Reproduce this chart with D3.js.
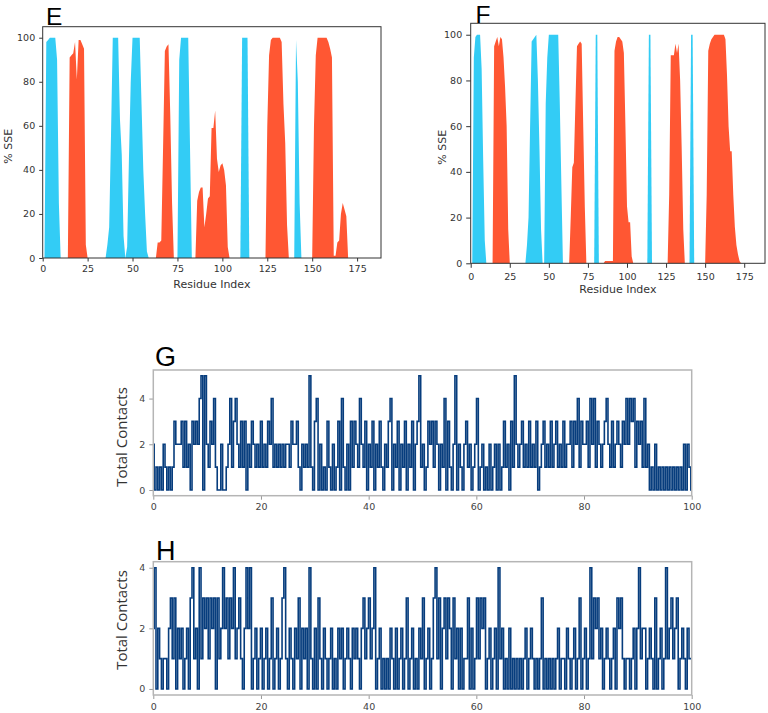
<!DOCTYPE html>
<html>
<head>
<meta charset="utf-8">
<script src="https://cdn.jsdelivr.net/npm/d3@7"></script>
<style>
  body { margin: 0; background: #fff; }
  svg { display: block; }
</style>
</head>
<body>
<div id="chart"></div>
<script>
// % SSE per residue. each run = [first residue, values for consecutive residues]
// panel E
var eStrand = [
  [1,   [0, 98, 99, 100, 100, 100, 100, 90, 25, 0]],
  [35,  [0, 6, 14, 55, 100, 100, 100, 100, 63, 47, 10, 0]],
  [46,  [0, 5, 45, 80, 100, 100, 100, 100, 100, 70, 40, 20, 3, 0]],
  [75,  [0, 90, 100, 100, 100, 100, 100, 50, 0]],
  [110, [0, 100, 100, 100, 100, 0]],
  [140, [0, 99, 80, 25, 0]]
];
var eHelix = [
  [14,  [0, 91, 92, 93, 98, 81, 99, 99, 97, 95, 6, 0]],
  [63,  [0, 7, 7, 8, 50, 94, 96, 97, 65, 25, 0]],
  [85,  [0, 26, 30, 32, 32, 14, 20, 27, 28, 59, 59, 67, 45, 39, 42, 43, 40, 33, 5, 0]],
  [124, [0, 60, 92, 99, 100, 100, 100, 100, 100, 98, 70, 52, 15, 0]],
  [150, [0, 60, 92, 100, 100, 100, 100, 100, 100, 98, 95, 91, 1, 1, 7, 8, 20, 25, 22, 19, 0]]
];
// panel F
var fStrand = [
  [1,   [0, 90, 99, 100, 100, 100, 85, 45, 10, 0]],
  [35,  [0, 8, 20, 60, 97, 98, 99, 100, 80, 50, 15, 0]],
  [47,  [0, 70, 90, 100, 100, 100, 100, 100, 100, 100, 70, 35, 0]],
  [79,  [0, 100, 100, 0]],
  [113, [0, 100, 100, 0]],
  [140, [0, 100, 100, 0]]
];
var fHelix = [
  [14,  [0, 95, 97, 99, 95, 99, 98, 90, 77, 60, 15, 0]],
  [63,  [0, 20, 42, 44, 70, 95, 96, 97, 96, 60, 25, 0]],
  [85,  [0, 1, 1, 1, 1, 1, 1, 93, 97, 99, 99, 98, 97, 92, 60, 25, 18, 18, 3, 0]],
  [126, [0, 30, 91, 91, 91, 96, 92, 96, 80, 50, 15, 0]],
  [150, [0, 30, 93, 96, 98, 99, 100, 100, 100, 100, 100, 100, 100, 98, 82, 60, 49, 49, 30, 16, 8, 4, 1, 0]]
];
var sseXTicks = [0, 25, 50, 75, 100, 125, 150, 175];
var sseYTicks = [0, 20, 40, 60, 80, 100];

// total contacts over 0-100 ns (3 samples per ns)
var gContacts = [
  2,0,1, 0,1,0, 2,1,0, 1,0,1, 3,2,2, 2,3,1, 3,1,2, 0,3,2, 3,2,4, 5,0,5,
  2,1,3, 2,4,1, 0,0,2, 0,0,1, 2,4,1, 3,4,2, 1,3,1, 3,0,2, 1,3,2, 1,2,1,
  3,1,2, 1,3,2, 4,1,2, 1,2,1, 2,1,2, 2,1,3, 2,2,3, 1,0,2, 1,2,1, 5,1,0,
  3,4,0, 2,0,1, 0,3,1, 0,2,0, 1,3,0, 4,1,0, 2,0,3, 1,3,2, 1,4,2, 1,3,0,
  2,1,3, 0,2,1, 3,1,0, 2,1,3, 4,0,2, 1,3,0, 2,1,3, 0,2,1, 3,0,2, 3,5,1,
  2,0,1, 3,2,3, 1,3,2, 0,2,1, 4,0,3, 1,0,2, 5,0,2, 1,0,2, 3,1,2, 0,1,2,
  4,0,1, 2,0,1, 0,2,0, 1,2,0, 2,0,1, 3,1,2, 0,3,1, 5,2,1, 2,3,1, 2,1,3,
  1,2,1, 3,0,1, 2,3,1, 2,1,3, 1,2,3, 1,2,1, 3,1,2, 2,3,1, 3,2,4, 1,3,2,
  2,3,1, 4,2,4, 1,3,2, 1,2,3, 4,2,1, 3,1,2, 3,2,1, 3,2,4, 2,4,3, 4,1,3,
  2,3,1, 4,1,2, 0,1,0, 2,0,1, 0,1,0, 1,0,1, 0,1,0, 1,0,1, 0,2,0, 2,1,0
];
var hContacts = [
  2,4,0, 2,1,0, 1,1,0, 2,3,1, 3,0,2, 1,2,0, 1,2,0, 3,4,1, 2,0,4, 1,3,2,
  3,1,3, 2,3,0, 3,1,2, 4,2,3, 1,3,2, 4,1,2, 3,1,0, 2,4,2, 4,0,1, 2,0,1,
  2,0,1, 2,0,1, 3,0,1, 2,0,1, 3,4,1, 0,2,1, 0,2,1, 3,0,2, 1,2,0, 4,1,0,
  2,0,3, 1,0,2, 1,0,1, 2,0,1, 0,2,1, 2,0,1, 2,1,0, 2,1,2, 1,0,2, 3,1,2,
  3,1,2, 4,0,1, 2,0,1, 0,1,0, 2,1,0, 2,0,1, 2,0,1, 3,0,1, 2,0,1, 0,2,1,
  3,0,1, 2,0,1, 3,4,1, 3,0,2, 3,1,3, 2,0,3, 1,2,0, 2,0,1, 1,3,0, 2,0,1,
  3,1,3, 2,3,0, 1,2,0, 1,2,0, 4,1,2, 0,1,0, 2,0,1, 0,1,0, 1,0,1, 2,0,1,
  2,1,0, 1,0,1, 3,0,1, 0,1,0, 1,0,1, 2,0,1, 1,0,2, 1,0,1, 2,0,1, 3,0,1,
  2,0,1, 4,1,3, 2,3,1, 2,0,1, 2,1,0, 1,2,0, 3,2,3, 1,0,1, 1,0,1, 2,0,2,
  4,1,2, 2,0,1, 2,1,0, 3,0,1, 2,0,1, 4,1,2, 3,1,2, 3,0,1, 2,1,0, 2,1,1
];
var timeTicks = [0, 20, 40, 60, 80, 100];
var contactTicks = [0, 2, 4];

var width = 768, height = 713;

var svg = d3.select("#chart")
    .append("svg")
    .attr("width", width)
    .attr("height", height);

//draw one % SSE panel
function ssePanel(p) {
    var x = d3.scaleLinear().domain([0, 188.3]).range([p.left, p.right]);
    var y = d3.scaleLinear().domain([0, 105]).range([p.bottom, p.top]);
    var g = svg.append("g");

    var area = d3.area()
        .x(function(d) { return x(d[0]); })
        .y0(y(0))
        .y1(function(d) { return y(d[1]); });

    function fillRuns(runs, color) {
        runs.forEach(function(run) {
            var pts = run[1].map(function(v, i) { return [run[0] + i, v]; });
            g.append("path").datum(pts)
                .attr("d", area)
                .attr("fill", color);
        });
    }
    fillRuns(p.strand, "#33ccf5");
    fillRuns(p.helix, "#ff5733");

    //axes
    var xa = g.append("g")
        .attr("transform", "translate(0," + p.bottom + ")")
        .call(d3.axisBottom(x).tickValues(sseXTicks).tickSize(p.tick).tickPadding(p.xPad));
    var ya = g.append("g")
        .attr("transform", "translate(" + p.left + ",0)")
        .call(d3.axisLeft(y).tickValues(sseYTicks).tickSize(p.tick).tickPadding(4));
    [xa, ya].forEach(function(a) {
        a.select(".domain").remove();
        a.selectAll("line").attr("stroke", "#333");
        a.selectAll("text")
            .style("font-family", "DejaVu Sans")
            .style("font-size", "9.5px")
            .attr("fill", "#333");
    });

    //frame
    g.append("rect")
        .attr("x", p.left).attr("y", p.top)
        .attr("width", p.right - p.left).attr("height", p.bottom - p.top)
        .attr("fill", "none")
        .attr("stroke", "#333")
        .attr("stroke-width", 1);

    g.append("text")
        .attr("x", (p.left + p.right) / 2)
        .attr("y", p.xLabelY)
        .attr("text-anchor", "middle")
        .style("font-family", "DejaVu Sans")
        .style("font-size", "11px")
        .attr("fill", "#333")
        .text("Residue Index");

    g.append("text")
        .attr("transform", "translate(" + p.yLabelX + "," + ((p.top + p.bottom) / 2 + 4) + ") rotate(-90)")
        .attr("text-anchor", "middle")
        .style("font-family", "DejaVu Sans")
        .style("font-size", "11px")
        .attr("fill", "#333")
        .text("% SSE");

    g.append("text")
        .attr("x", p.letterX).attr("y", p.letterY)
        .style("font-family", "Liberation Sans")
        .style("font-size", "24.5px")
        .attr("fill", "#000")
        .text(p.letter);
}

//draw one contacts-vs-time panel
function contactPanel(p) {
    var x = d3.scaleLinear().domain([0, 100]).range([p.left, p.right]);
    var y = d3.scaleLinear().domain(p.yDomain).range([p.bottom, p.top]);
    var g = svg.append("g");
    var n = p.values.length;

    //dense trajectory: draw as steps so level changes stay vertical
    var line = d3.line()
        .curve(d3.curveStep)
        .x(function(d, i) { return x(i * 100 / (n - 1)); })
        .y(function(d) { return y(d); });

    g.append("path").datum(p.values)
        .attr("d", line)
        .attr("fill", "none")
        .attr("stroke", "#073d7d")
        .attr("stroke-width", 1.6);

    var xa = g.append("g")
        .attr("transform", "translate(0," + p.bottom + ")")
        .call(d3.axisBottom(x).tickValues(timeTicks).tickSize(4).tickPadding(4));
    var ya = g.append("g")
        .attr("transform", "translate(" + p.left + ",0)")
        .call(d3.axisLeft(y).tickValues(contactTicks).tickFormat(d3.format("d")).tickSize(4).tickPadding(4));
    [xa, ya].forEach(function(a) {
        a.select(".domain").remove();
        a.selectAll("line").attr("stroke", "#999");
        a.selectAll("text")
            .style("font-family", "DejaVu Sans")
            .style("font-size", "9.5px")
            .attr("fill", "#444");
    });

    g.append("rect")
        .attr("x", p.left).attr("y", p.top)
        .attr("width", p.right - p.left).attr("height", p.bottom - p.top)
        .attr("fill", "none")
        .attr("stroke", "#b5b5b5")
        .attr("stroke-width", 1.5);

    g.append("text")
        .attr("transform", "translate(126.5," + p.yLabelMid + ") rotate(-90)")
        .attr("text-anchor", "middle")
        .style("font-family", "Open Sans")
        .style("font-size", "15px")
        .attr("fill", "#333")
        .text("Total Contacts");

    g.append("text")
        .attr("x", p.letterX).attr("y", p.letterY)
        .style("font-family", "Liberation Sans")
        .style("font-size", "27px")
        .attr("fill", "#000")
        .text(p.letter);
}

ssePanel({
    letter: "E", letterX: 46, letterY: 25,
    left: 42.7, right: 381, top: 26.7, bottom: 258,
    tick: 3.5, xPad: 3.5, xLabelY: 287.5, yLabelX: 11.5,
    strand: eStrand, helix: eHelix
});
ssePanel({
    letter: "F", letterX: 475.5, letterY: 22.7,
    left: 470.7, right: 765, top: 23.3, bottom: 263.3,
    tick: 4.5, xPad: 5, xLabelY: 293, yLabelX: 445.5,
    strand: fStrand, helix: fHelix
});
contactPanel({
    letter: "G", letterX: 155, letterY: 366,
    left: 153.3, right: 691.7, top: 370, bottom: 495.7,
    yDomain: [-0.25, 5.25], yLabelMid: 437,
    values: gContacts
});
contactPanel({
    letter: "H", letterX: 156, letterY: 560,
    left: 153.3, right: 691.7, top: 561.7, bottom: 695,
    yDomain: [-0.2, 4.2], yLabelMid: 620,
    values: hContacts
});
</script>
</body>
</html>
